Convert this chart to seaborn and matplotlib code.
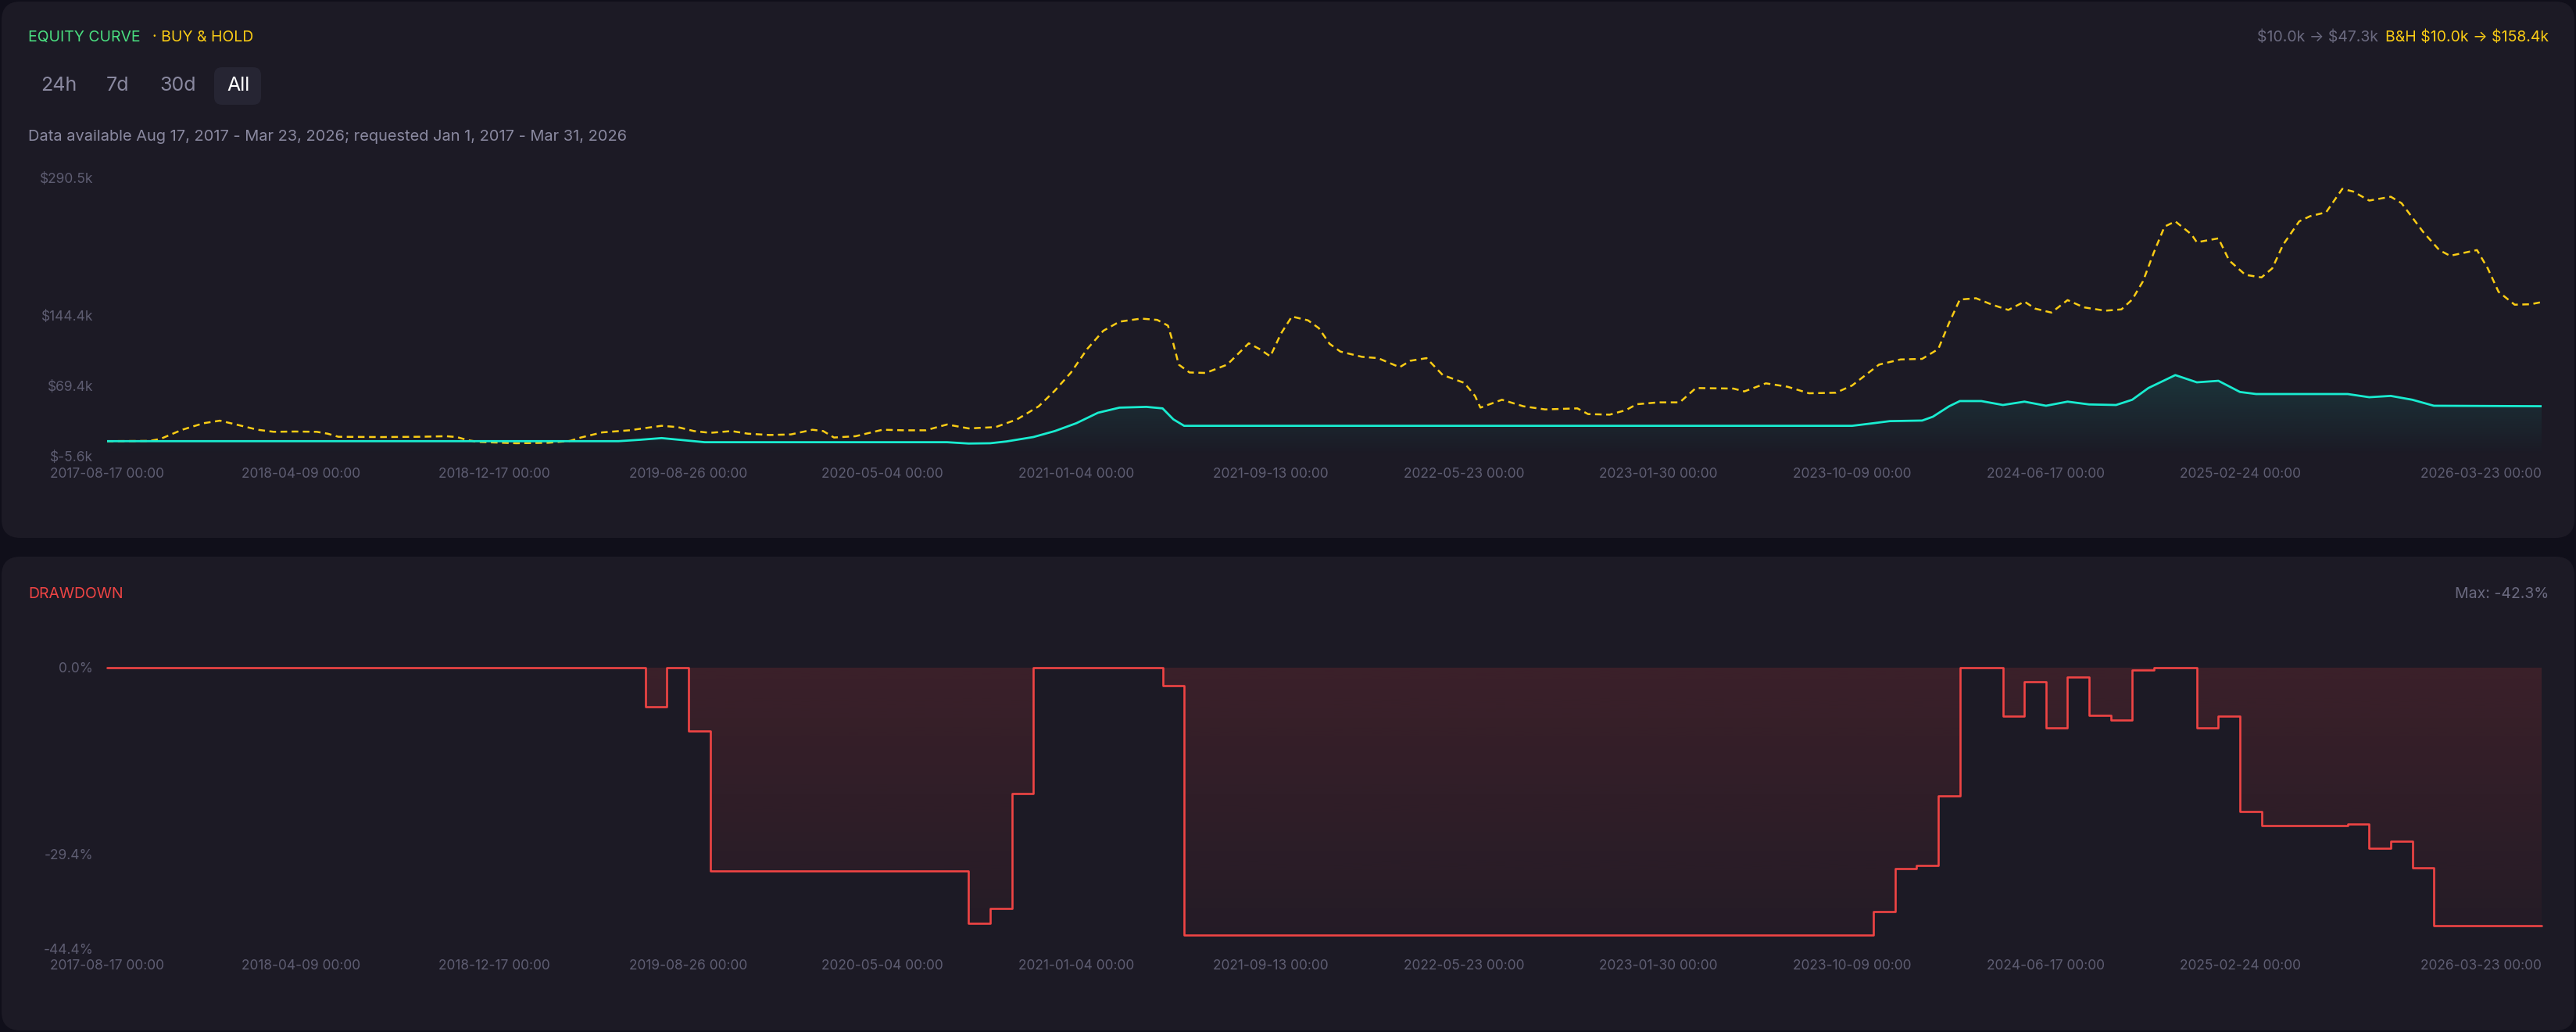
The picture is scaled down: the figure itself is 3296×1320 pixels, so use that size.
import numpy as np
import pandas as pd
import seaborn as sns
import matplotlib
matplotlib.use('Agg')
import matplotlib.pyplot as plt
from matplotlib.patches import FancyBboxPatch
from matplotlib.colors import LinearSegmentedColormap, to_rgb

# ---- data (x = bar index, ~weekly) ----
tick_pos = [0, 36, 72, 108, 144, 180, 216, 252, 288, 324, 360, 396, 452]
tick_labels = ['2017-08-17 00:00', '2018-04-09 00:00', '2018-12-17 00:00', '2019-08-26 00:00',
               '2020-05-04 00:00', '2021-01-04 00:00', '2021-09-13 00:00', '2022-05-23 00:00',
               '2023-01-30 00:00', '2023-10-09 00:00', '2024-06-17 00:00', '2025-02-24 00:00',
               '2026-03-23 00:00']

# buy & hold equity, $k
bh_x = [0, 8, 10, 14, 18, 21, 24, 28, 31, 35, 39, 41, 43, 51, 58, 63, 65, 67, 69, 76,
        82, 86, 88, 92, 97, 103, 106, 109, 112, 116, 119, 123, 127, 131, 133, 135, 139, 144, 148, 152,
        156, 160, 165, 169, 173, 176, 179, 182, 185, 188, 192, 195, 197, 198, 199, 201, 204, 208, 212, 214,
        216, 218, 220, 223, 225, 227, 229, 233, 236, 240, 242, 245, 248, 252, 254, 255, 259, 263, 267, 273,
        275, 279, 282, 284, 288, 292, 295, 302, 304, 308, 312, 316, 321, 324, 329, 333, 337, 340, 342, 344,
        347, 350, 353, 356, 358, 361, 364, 367, 371, 374, 376, 378, 380, 382, 384, 387, 388, 392, 394, 397,
        400, 402, 404, 407, 409, 412, 415, 417, 420, 424, 426, 430, 433, 435, 440, 442, 444, 447, 450, 452]
bh_val = [10.0, 10.3, 12.5, 22.2, 29.2, 31.9, 27.8, 22.2, 20.0, 20.3, 20.0, 18.0, 14.7, 14.4, 14.7, 15.3, 14.4, 11.1, 9.2, 7.8,
          8.3, 10.3, 13.9, 19.4, 21.6, 26.4, 25.0, 20.8, 18.9, 20.8, 18.0, 16.6, 17.2, 22.2, 20.8, 13.9, 15.3, 22.2, 21.6, 21.6,
          27.8, 23.6, 25.0, 33.3, 47.2, 63.9, 83.3, 108.3, 127.8, 137.5, 140.8, 139.4, 133.3, 113.9, 91.7, 83.3, 82.8, 91.7, 114.4, 108.3,
          100.5, 125.0, 143.0, 138.9, 130.6, 113.9, 105.6, 100.0, 98.6, 88.9, 95.8, 98.6, 80.6, 72.2, 58.3, 45.8, 54.2, 47.2, 43.9, 45.0,
          38.9, 38.3, 43.1, 49.4, 51.4, 51.4, 66.7, 66.1, 63.1, 71.7, 68.1, 61.1, 61.7, 69.4, 91.7, 97.2, 97.8, 108.3, 136.1, 161.1,
          162.5, 155.6, 150.0, 158.9, 151.4, 147.2, 160.5, 152.8, 149.2, 150.6, 161.1, 180.6, 211.1, 238.9, 244.5, 230.6, 222.2, 226.4, 202.8, 187.5,
          184.7, 194.4, 219.5, 244.5, 250.0, 254.2, 279.2, 276.4, 266.7, 270.8, 263.9, 233.3, 213.9, 207.8, 213.9, 194.4, 169.4, 155.6, 156.1, 158.4]

# strategy equity, $k
eq_x = [0, 95, 99, 103, 107, 111, 156, 160, 164, 167, 172, 176, 180, 184, 188, 193, 196, 198, 200, 324,
        328, 331, 337, 339, 342, 344, 348, 352, 356, 360, 364, 368, 373, 376, 379, 384, 388, 392, 396, 399,
        416, 420, 424, 428, 432, 452]
eq_val = [10.0, 10.0, 11.5, 13.3, 11.1, 8.9, 8.9, 7.5, 7.8, 9.7, 14.4, 20.8, 29.2, 40.3, 45.8, 46.6, 45.0, 33.3, 26.4, 26.4,
          29.2, 31.4, 32.0, 36.1, 47.2, 52.8, 52.8, 48.6, 52.2, 47.8, 52.2, 49.2, 48.6, 54.2, 66.7, 80.5, 72.8, 74.4, 62.5, 60.3,
          60.3, 56.9, 58.3, 54.2, 47.8, 47.3]

# drawdown, % (monthly steps: start index of each step and its level)
dd_x = [0, 100, 104, 108, 112, 160, 164, 168, 172, 196, 200, 328, 332, 336, 340, 344, 352, 356, 360, 364,
        368, 372, 376, 380, 388, 392, 396, 400, 416, 420, 424, 428, 432]
dd_val = [0.0, -6.2, 0.0, -10.0, -32.1, -40.4, -38.0, -19.9, 0.0, -2.9, -42.3, -38.5, -31.8, -31.2, -20.3, 0.0, -7.7, -2.2, -9.5, -1.5,
          -7.5, -8.3, -0.4, 0.0, -9.5, -7.6, -22.7, -24.9, -24.7, -28.5, -27.4, -31.6, -40.7]
dd_end = 452

eq_ticks = [-5.6, 69.4, 144.4, 290.5]
eq_tick_labels = ['$-5.6k', '$69.4k', '$144.4k', '$290.5k']
dd_ticks = [-44.4, -29.4, 0.0]
dd_tick_labels = ['-44.4%', '-29.4%', '0.0%']

# ---- style ----
W, H, DPI = 3296, 1320, 100
PAGE_BG = '#100f1a'
CARD_BG = '#1c1a25'
CYAN = '#19ecd0'
GOLD = '#facc15'
RED = '#ef4444'
GREEN = '#4ade80'
TICK = '#5e5d72'
MUTED = '#8a89a0'
DIM = '#6b6a80'

sns.set_theme(style='dark')
plt.rcParams['font.family'] = ['Inter', 'DejaVu Sans']
plt.rcParams['axes.facecolor'] = 'none'
plt.rcParams['text.parse_math'] = False

TICK_FS = 12.5
HEAD_FS = 14


def gradient_fill(ax, x, y, base, color, a_top, a_bot, step=None):
    poly = ax.fill_between(x, y, base, step=step, facecolor='none', edgecolor='none')
    lo, hi = min(min(y), base), max(max(y), base)
    rgb = to_rgb(color)
    cmap = LinearSegmentedColormap.from_list('g', [(*rgb, a_bot), (*rgb, a_top)])
    grad = np.linspace(0, 1, 256).reshape(-1, 1)
    im = ax.imshow(grad, extent=[x[0], x[-1], lo, hi], origin='lower', aspect='auto',
                   cmap=cmap, zorder=1, interpolation='bilinear')
    im.set_clip_path(poly.get_paths()[0], transform=ax.transData)


def style_axis(ax, yticks, ylabels, xpad):
    ax.set_xlim(0, dd_end)
    ax.set_xticks(tick_pos)
    ax.set_xticklabels(tick_labels)
    ax.xaxis.get_majorticklabels()[-1].set_ha('right')
    ax.set_yticks(yticks)
    ax.set_yticklabels(ylabels)
    ax.tick_params(axis='both', length=0, colors=TICK, labelsize=TICK_FS)
    ax.tick_params(axis='x', pad=xpad)
    ax.tick_params(axis='y', pad=12.5)
    ax.grid(False)
    ax.set_xlabel('')
    ax.set_ylabel('')
    for s in ax.spines.values():
        s.set_visible(False)


fig = plt.figure(figsize=(W / DPI, H / DPI), dpi=DPI, facecolor=PAGE_BG)

# background layer in pixel coordinates
bg = fig.add_axes([0, 0, 1, 1], zorder=0)
bg.set_xlim(0, W)
bg.set_ylim(H, 0)
bg.axis('off')
for y0, y1 in [(2, 688), (712, 1318)]:
    bg.add_patch(FancyBboxPatch((2, y0), W - 4, y1 - y0, boxstyle='round,pad=0,rounding_size=24',
                                facecolor=CARD_BG, edgecolor='none'))
bg.add_patch(FancyBboxPatch((274, 86), 60, 48, boxstyle='round,pad=0,rounding_size=10',
                            facecolor='#262533', edgecolor='none'))

bg.text(36, 48, 'EQUITY CURVE', color=GREEN, fontsize=HEAD_FS, va='center', ha='left')
bg.text(195, 48, '· BUY & HOLD', color=GOLD, fontsize=HEAD_FS, va='center', ha='left')
for label, x0, col in [('24h', 52, MUTED), ('7d', 136, MUTED), ('30d', 204, MUTED), ('All', 290, 'white')]:
    bg.text(x0, 110, label, color=col, fontsize=18, va='center', ha='left')
bg.text(36, 175, 'Data available Aug 17, 2017 - Mar 23, 2026; requested Jan 1, 2017 - Mar 31, 2026',
        color=MUTED, fontsize=14.4, va='center', ha='left')
bg.text(3043, 48, '$10.0k → $47.3k', color=DIM, fontsize=HEAD_FS, va='center', ha='right')
bg.text(3261, 48, 'B&H $10.0k → $158.4k', color=GOLD, fontsize=HEAD_FS, va='center', ha='right')
bg.text(36, 760, 'DRAWDOWN', color=RED, fontsize=HEAD_FS, va='center', ha='left')
bg.text(3261, 760, 'Max: -42.3%', color=DIM, fontsize=HEAD_FS, va='center', ha='right')

# ---- equity panel ----
ax1 = fig.add_axes([136.6 / W, 1 - 583 / H, 3115.4 / W, 355 / H], zorder=2)
bh_df = pd.DataFrame({'bar': bh_x, 'value': bh_val})
eq_df = pd.DataFrame({'bar': eq_x, 'value': eq_val})
gradient_fill(ax1, eq_x, eq_val, eq_ticks[0], CYAN, 0.13, 0.0)
sns.lineplot(data=bh_df, x='bar', y='value', ax=ax1, color=GOLD, linewidth=1.8,
             linestyle=(0, (3.4, 2.3)), errorbar=None, zorder=3)
sns.lineplot(data=eq_df, x='bar', y='value', ax=ax1, color=CYAN, linewidth=2.0,
             errorbar=None, zorder=4)
ax1.set_ylim(eq_ticks[0], eq_ticks[-1])
style_axis(ax1, eq_ticks, eq_tick_labels, 10.5)

# ---- drawdown panel ----
ax2 = fig.add_axes([136.6 / W, 1 - 1213.5 / H, 3115.4 / W, 359.5 / H], zorder=2)
dd_df = pd.DataFrame({'bar': dd_x + [dd_end], 'dd': dd_val + [dd_val[-1]]})
gradient_fill(ax2, list(dd_df['bar']), list(dd_df['dd']), 0.0, RED, 0.15, 0.04, step='post')
sns.lineplot(data=dd_df, x='bar', y='dd', ax=ax2, color=RED, linewidth=1.9,
             drawstyle='steps-post', errorbar=None, zorder=4)
for ln in ax2.lines:
    ln.set_clip_on(False)
ax2.set_ylim(dd_ticks[0], 0)
style_axis(ax2, dd_ticks, dd_tick_labels, 9.5)

fig.savefig('out.png', dpi=DPI, facecolor=PAGE_BG)
